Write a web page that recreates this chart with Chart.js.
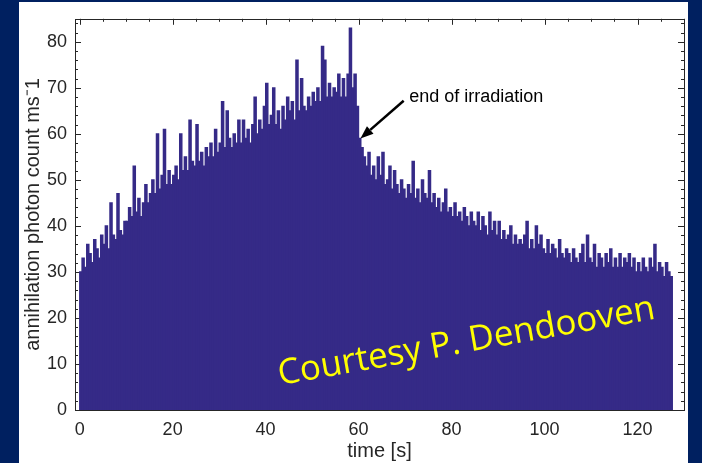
<!DOCTYPE html>
<html>
<head>
<meta charset="utf-8">
<script src="https://cdn.jsdelivr.net/npm/chart.js@4"></script>
<style>
  html, body { margin: 0; padding: 0; background: #002060; }
  canvas { display: block; }
</style>
</head>
<body>
<canvas id="chart" width="702" height="463"></canvas>
<script>
// Annihilation photon count histogram, 0.5 s bins.
// Values.

const BIN = 0.5;

// 0 .. 60 s (irradiation on)
const countsRise = [
  30, 33, 31, 36, 34, 32, 37, 35, 33, 38,
  36, 40, 35, 45, 38, 37, 47, 39, 38, 41,
  41, 44, 42, 53, 43, 46, 42, 45, 49, 45,
  47, 50, 47, 60, 48, 51, 61, 49, 52, 49,
  51, 53, 50, 60, 52, 55, 52, 63, 54, 53,
  62, 54, 56, 53, 57, 55, 58, 55, 61, 56,
  58, 67, 57, 65, 59, 57, 60, 58, 63, 58,
  63, 59, 61, 58, 62, 68, 60, 63, 61, 66,
  71, 62, 64, 70, 62, 65, 61, 66, 63, 68,
  65, 67, 63, 76, 65, 72, 66, 65, 68, 66,
  69, 67, 70, 67, 79, 76, 68, 71, 68, 70,
  69, 73, 68, 72, 68, 73, 83, 70, 73, 66,
];

// 60 .. 127.5 s (decay after end of irradiation)
const countsDecay = [
  59, 57, 55, 53, 56, 51, 53, 50, 55, 51,
  56, 49, 50, 53, 48, 52, 49, 47, 50, 48,
  46, 49, 47, 54, 46, 48, 45, 50, 47, 46,
  52, 45, 47, 44, 46, 43, 45, 48, 43, 44,
  42, 45, 42, 43, 41, 44, 42, 40, 43, 41,
  40, 43, 39, 42, 40, 38, 43, 39, 41, 38,
  41, 37, 39, 37, 38, 40, 36, 38, 36, 37,
  36, 38, 41, 35, 37, 35, 40, 36, 38, 35,
  34, 37, 34, 36, 35, 33, 37, 34, 33, 35,
  34, 32, 35, 33, 32, 34, 36, 32, 38, 33,
  32, 36, 31, 34, 33, 31, 34, 32, 35, 31,
  33, 31, 34, 31, 33, 32, 34, 31, 33, 30,
  32, 30, 33, 31, 30, 33, 31, 36, 30, 32,
  31, 29, 32, 30, 29,
];

const xTicks = [0, 20, 40, 60, 80, 100, 120];
const yTicks = [0, 10, 20, 30, 40, 50, 60, 70, 80];
const xRange = [-1, 130];
const yRange = [0, 85];

// annotation: arrow tail/head and label, in data units
const arrowTail = [69.7, 67.2];
const arrowHead = [60.4, 59.0];
const noteText = "end of irradiation";
const notePos = [70.9, 68.0];
const watermark = "Courtesy P. Dendooven";

const INK = "#262626";
const BAR = "#352a87";
const FONT = "'Liberation Sans', Arial, sans-serif";

const counts = countsRise.concat(countsDecay);
const points = counts.map((v, i) => ({ x: i * BIN + BIN / 2, y: v }));

const background = {
  id: "background",
  beforeDraw(chart) {
    const ctx = chart.ctx;
    ctx.save();
    ctx.fillStyle = "#002060";
    ctx.fillRect(0, 0, chart.width, chart.height);
    ctx.fillStyle = "#ffffff";
    ctx.fillRect(19, 2, 669, chart.height - 2);
    ctx.restore();
  },
};

// inside tick marks, MATLAB style, drawn under the bars
const innerTicks = {
  id: "innerTicks",
  beforeDatasetsDraw(chart) {
    const { ctx, chartArea: a, scales } = chart;
    const x = scales.x, y = scales.y;
    ctx.save();
    ctx.strokeStyle = INK;
    ctx.lineWidth = 1;
    ctx.beginPath();
    for (let v = 0; v <= yRange[1]; v += 2) {
      const py = Math.round(y.getPixelForValue(v)) + 0.5;
      const len = v % 10 === 0 ? 6 : 3;
      ctx.moveTo(a.left, py); ctx.lineTo(a.left + len, py);
      ctx.moveTo(a.right, py); ctx.lineTo(a.right - len, py);
    }
    for (let v = 0; v <= xRange[1]; v += 5) {
      const px = Math.round(x.getPixelForValue(v)) + 0.5;
      const len = v % 20 === 0 ? 6 : 3;
      ctx.moveTo(px, a.top); ctx.lineTo(px, a.top + len);
      ctx.moveTo(px, a.bottom); ctx.lineTo(px, a.bottom - len);
    }
    ctx.stroke();
    ctx.restore();
  },
  afterDatasetsDraw(chart) {
    const { ctx, chartArea: a, scales } = chart;
    const x = scales.x, y = scales.y;
    ctx.save();
    // frame
    ctx.strokeStyle = INK;
    ctx.lineWidth = 1;
    ctx.strokeRect(Math.round(a.left) + 0.5, Math.round(a.top) + 0.5,
      Math.round(a.right - a.left), Math.round(a.bottom - a.top));

    // arrow
    const tx = x.getPixelForValue(arrowTail[0]), ty = y.getPixelForValue(arrowTail[1]);
    const hx = x.getPixelForValue(arrowHead[0]), hy = y.getPixelForValue(arrowHead[1]);
    const ang = Math.atan2(hy - ty, hx - tx);
    const headLen = 13, headHalf = 5;
    const bx = hx - headLen * Math.cos(ang), by = hy - headLen * Math.sin(ang);
    ctx.strokeStyle = "#000";
    ctx.lineWidth = 2.5;
    ctx.beginPath();
    ctx.moveTo(tx, ty);
    ctx.lineTo(bx, by);
    ctx.stroke();
    ctx.fillStyle = "#000";
    ctx.beginPath();
    ctx.moveTo(hx, hy);
    ctx.lineTo(bx + headHalf * Math.sin(ang), by - headHalf * Math.cos(ang));
    ctx.lineTo(bx - headHalf * Math.sin(ang), by + headHalf * Math.cos(ang));
    ctx.closePath();
    ctx.fill();

    // label
    ctx.fillStyle = "#000";
    ctx.font = "18px " + FONT;
    ctx.textBaseline = "middle";
    ctx.textAlign = "left";
    ctx.fillText(noteText, x.getPixelForValue(notePos[0]), y.getPixelForValue(notePos[1]));

    // watermark
    ctx.translate(280, 385);
    ctx.rotate(-10 * Math.PI / 180);
    ctx.fillStyle = "#ffff00";
    ctx.font = "35px 'Open Sans', 'Noto Sans', sans-serif";
    ctx.textBaseline = "alphabetic";
    ctx.fillText(watermark, 0, 0);
    ctx.restore();
  },
};

new Chart(document.getElementById("chart"), {
  type: "bar",
  data: {
    datasets: [{
      data: points,
      backgroundColor: BAR,
      borderWidth: 0,
      inflateAmount: 0.6,
      barPercentage: 1,
      categoryPercentage: 1,
    }],
  },
  options: {
    responsive: false,
    animation: false,
    events: [],
    layout: { padding: { left: 0, top: 10, right: 18, bottom: 0 } },
    plugins: { legend: { display: false }, tooltip: { enabled: false } },
    scales: {
      x: {
        type: "linear",
        min: xRange[0],
        max: xRange[1],
        offset: false,
        afterBuildTicks: (s) => { s.ticks = xTicks.map((v) => ({ value: v })); },
        afterFit: (s) => { s.height = 53; },
        grid: { display: false, drawTicks: false },
        border: { display: false },
        ticks: {
          color: INK,
          padding: 9,
          maxRotation: 0,
          font: { family: FONT, size: 18 },
        },
        title: {
          display: true,
          text: "time [s]",
          color: INK,
          padding: { top: 0, bottom: 0 },
          font: { family: FONT, size: 20 },
        },
      },
      y: {
        min: yRange[0],
        max: yRange[1],
        afterBuildTicks: (s) => { s.ticks = yTicks.map((v) => ({ value: v })); },
        afterFit: (s) => { s.width = 75; },
        grid: { display: false, drawTicks: false },
        border: { display: false },
        ticks: {
          color: INK,
          padding: 8,
          font: { family: FONT, size: 18 },
        },
        title: {
          display: true,
          text: "annihilation photon count ms\u207B1",
          color: INK,
          padding: { top: 21, bottom: 0 },
          font: { family: FONT, size: 20 },
        },
      },
    },
  },
  plugins: [background, innerTicks],
});
</script>
</body>
</html>
